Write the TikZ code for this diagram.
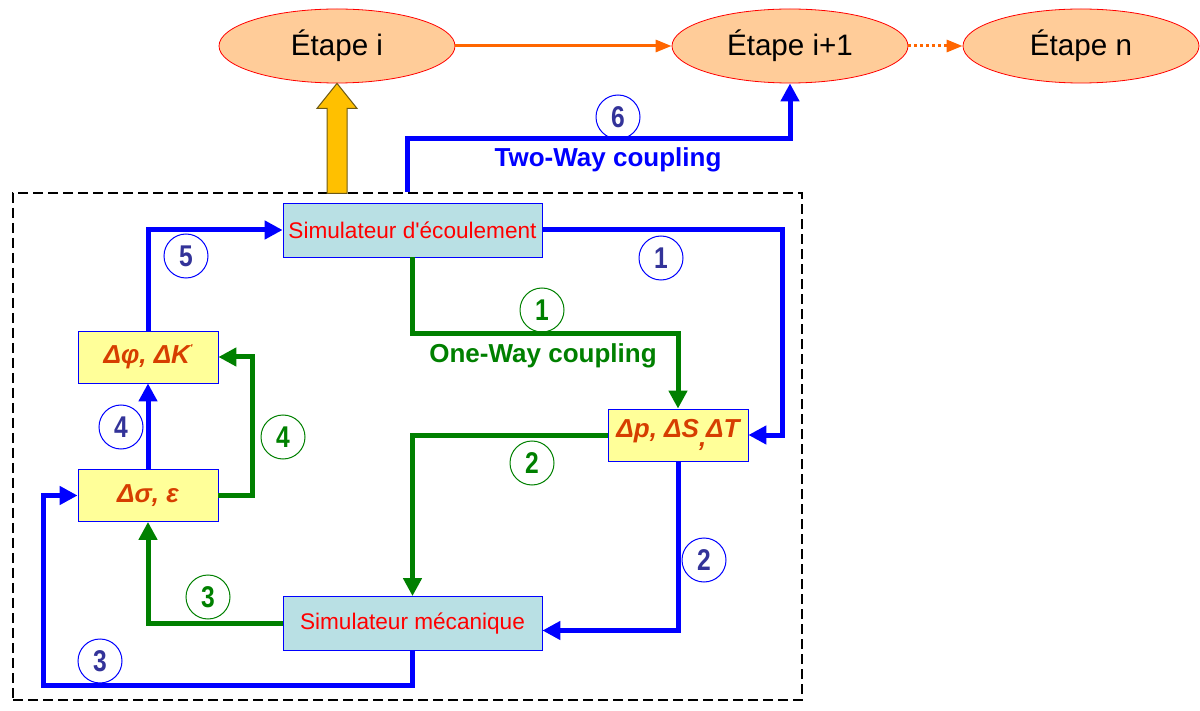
\documentclass[tikz,border=0pt]{standalone}
\usepackage{fontspec}
\setmainfont{Liberation Sans}[Ligatures=TeXOff]
\newfontfamily\numfont{Liberation Sans}[FakeStretch=0.82]
\usetikzlibrary{arrows.meta,shapes.geometric}

\definecolor{lienbleu}{RGB}{0,0,255}
\definecolor{lienvert}{RGB}{0,128,0}
\definecolor{numbleu}{RGB}{51,51,153}
\definecolor{boitebleue}{RGB}{185,224,228}
\definecolor{boitejaune}{RGB}{255,255,153}
\definecolor{texteorange}{RGB}{214,62,0}
\definecolor{etapefond}{RGB}{255,204,153}
\definecolor{orangefleche}{RGB}{255,102,0}
\definecolor{orfleche}{RGB}{255,192,0}
\definecolor{orfonce}{RGB}{110,90,20}

\tikzset{
  etape/.style={ellipse, draw=red, fill=etapefond, minimum width=118pt, minimum height=37pt, inner sep=0pt, font=\fontsize{14.8}{16}\selectfont},
  simu/.style={draw=lienbleu, fill=boitebleue, text=red, minimum width=129.5pt, minimum height=27pt, inner sep=0pt, font=\fontsize{11.3}{13}\selectfont},
  delta/.style={draw=lienbleu, fill=boitejaune, text=texteorange, minimum width=70pt, minimum height=26pt, inner sep=0pt, font=\fontsize{13}{14}\bfseries\itshape},
  bleu/.style={draw=lienbleu, line width=2.5pt, -{Triangle[length=9pt,width=9pt]}},
  vert/.style={draw=lienvert, line width=2.5pt, -{Triangle[length=9pt,width=9pt]}},
  suite/.style={draw=orangefleche, line width=1.5pt, -{Triangle[length=8pt,width=6pt]}},
  bnum/.style={circle, draw=lienbleu, line width=0.5pt, minimum size=22pt, inner sep=0pt, text=numbleu, font=\numfont\fontsize{15}{16}\bfseries},
  vnum/.style={circle, draw=lienvert, line width=0.5pt, minimum size=22pt, inner sep=0pt, text=lienvert, font=\numfont\fontsize{15}{16}\bfseries},
  couplage/.style={font=\fontsize{13}{14}\bfseries}
}

\begin{document}
\begin{tikzpicture}[x=0.5pt, y=-0.5pt]
    \useasboundingbox (0,0) rectangle (1200,711);
    \node[etape] (e1) at (337,46) {Étape i};
    \node[etape] (e2) at (790,46) {Étape i+1};
    \node[etape] (e3) at (1081,46) {Étape n};
    \node[draw, line width=1pt, dash pattern=on 5pt off 2.5pt, minimum width=394.5pt, minimum height=253.5pt] (cadre) at (407.5,446.5) {};

    \node[simu] (ecoul) at (412.5,230) {Simulateur d'écoulement};
    \node[simu] (meca) at (412.5,623.5) {Simulateur mécanique};
    \node[delta] (phi) at (148,357) {Δφ, ΔK\raisebox{0.45em}{\tiny'}};
    \node[delta] (sig) at (148,495.5) {Δσ, ε};
    \node[delta] (dp) at (678,435) {Δp, ΔS\raisebox{-0.35em}{,}ΔT};

    \draw[suite] (e1) -- (e2);
    \draw[suite, dash pattern=on 1.5pt off 1.5pt] (e2) -- (e3);
    \filldraw[draw=orfonce, fill=orfleche, line width=0.5pt] (e1.south) -- ++(20,25) -- ++(-10,0) -- ++(0,85) -- ++(-20,0) -- ++(0,-85) -- ++(-10,0) -- cycle;

    \draw[bleu] (cadre.north) -- ++(0,-53) -| (e2.south);
    \draw[bleu] (ecoul.east) -- ++(240,0) |- (dp.east);
    \draw[bleu] (dp.south) |- ([yshift=-3.5pt]meca.east);
    \draw[bleu] (meca.south) -- ++(0,35) -- ++(-369,0) |- (sig.west);
    \draw[bleu] (sig.north) -- (phi.south);
    \draw[bleu] (phi.north) |- (ecoul.west);

    \draw[vert] (ecoul.south) -- ++(0,76) -| (dp.north);
    \draw[vert] (dp.west) -| (meca.north);
    \draw[vert] (meca.west) -| (sig.south);
    \draw[vert] (sig.east) -- ++(34,0) |- (phi.east);

    \node[couplage, text=lienbleu] (deux) at (608,160) {Two-Way coupling};
    \node[couplage, text=lienvert] (un) at (543,356) {One-Way coupling};

    \node[bnum] (b6) at (618,117) {6};
    \node[bnum] (b1) at (661,258) {1};
    \node[bnum] (b2) at (704,560) {2};
    \node[bnum] (b3) at (100,661) {3};
    \node[bnum] (b4) at (121,427) {4};
    \node[bnum] (b5) at (186,256) {5};
    \node[vnum] (v1) at (542,310) {1};
    \node[vnum] (v2) at (532,463) {2};
    \node[vnum] (v3) at (208,597) {3};
    \node[vnum] (v4) at (283,437) {4};
\end{tikzpicture}
\end{document}
